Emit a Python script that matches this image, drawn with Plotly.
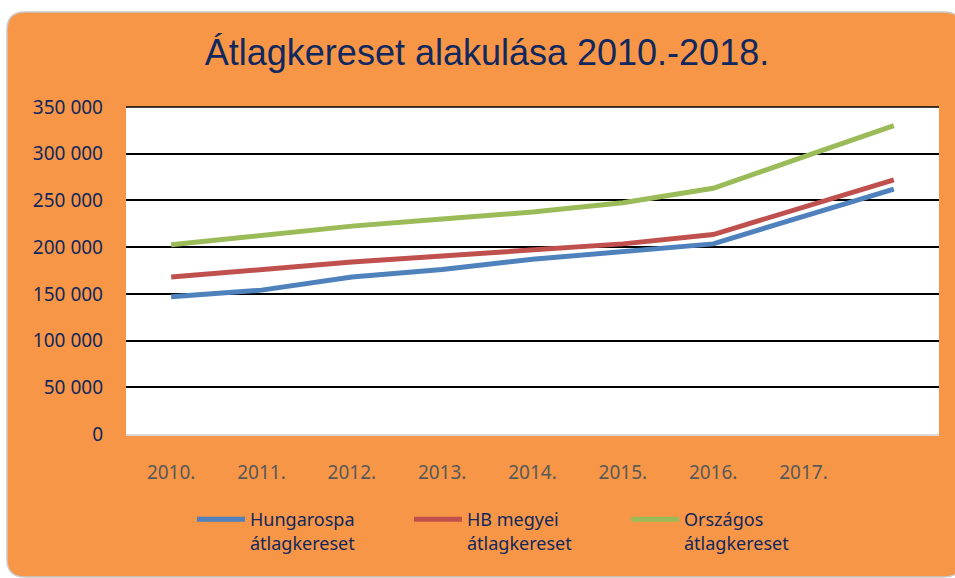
import plotly.graph_objects as go

years = ["2010.", "2011.", "2012.", "2013.", "2014.", "2015.", "2016.", "2017.", "2018."]
tick_labels = ["2010.", "2011.", "2012.", "2013.", "2014.", "2015.", "2016.", "2017.", ""]
hungarospa = [147000, 154000, 168000, 176000, 187000, 195000, 203500, 233000, 262000]
hb_megyei = [168000, 176000, 184000, 190500, 197000, 203500, 213500, 243000, 272000]
orszagos = [202500, 213000, 222500, 230000, 237500, 247500, 263000, 296500, 330000]
names = ["Hungarospa<br>átlagkereset", "HB megyei<br>átlagkereset", "Országos<br>átlagkereset"]
colors = ["#4F81BD", "#C0504D", "#9BBB59"]
y_ticks = [0, 50000, 100000, 150000, 200000, 250000, 300000, 350000]
y_tick_text = ["0", "50 000", "100 000", "150 000", "200 000", "250 000", "300 000", "350 000"]

W, H = 955, 578
L, R, T, B = 126, 16, 107, 144
pw, ph = W - L - R, H - T - B

def px(x):
    return (x - L) / pw

def py(y):
    return (H - B - y) / ph

xi = list(range(len(years)))
fig = go.Figure()
for name, vals, c in zip(names, [hungarospa, hb_megyei, orszagos], colors):
    fig.add_trace(go.Scatter(x=xi, y=vals, mode="lines", name=name,
                             line=dict(color=c, width=5)))

# rounded orange panel
x0, x1, y0, y1 = 7, 962, 12, 577
r = 18
rx, ry = r / pw, r / ph
X0, X1, Y0, Y1 = px(x0), px(x1), py(y1), py(y0)
path = (f"M{X0+rx},{Y1} L{X1-rx},{Y1} Q{X1},{Y1} {X1},{Y1-ry} "
        f"L{X1},{Y0+ry} Q{X1},{Y0} {X1-rx},{Y0} L{X0+rx},{Y0} "
        f"Q{X0},{Y0} {X0},{Y0+ry} L{X0},{Y1-ry} Q{X0},{Y1} {X0+rx},{Y1} Z")
fig.add_shape(type="path", path=path, xref="paper", yref="paper",
              fillcolor="#F79646", line=dict(color="#C8C8C8", width=1.5), layer="below")
fig.add_shape(type="rect", x0=0, x1=1, y0=0, y1=1, xref="paper", yref="paper",
              fillcolor="white", line=dict(width=0), layer="below")
fig.add_shape(type="line", x0=0, x1=1, y0=1, y1=1, xref="paper", yref="paper",
              line=dict(color="#000000", width=1.6), layer="below")

fig.update_layout(
    width=W, height=H, autosize=False,
    margin=dict(l=L, r=R, t=T, b=B, autoexpand=False),
    paper_bgcolor="white", plot_bgcolor="rgba(0,0,0,0)",
    title=dict(text="Átlagkereset alakulása 2010.-2018.", x=487 / W, xref="container",
               xanchor="center", y=1 - 52 / H, yanchor="middle", yref="container",
               font=dict(family="Liberation Sans", size=36, color="#10285E")),
    showlegend=True,
    legend=dict(orientation="h", x=px(192), xanchor="left", y=py(501), yanchor="top",
                itemwidth=48, entrywidth=154, entrywidthmode="pixels", valign="top",
                bgcolor="rgba(0,0,0,0)",
                font=dict(family="Noto Sans", size=18, color="#10285E")),
)
fig.update_xaxes(range=[-0.5, 8.5], tickvals=xi, ticktext=tick_labels,
                 showgrid=False, zeroline=False, showline=True, linecolor="#D9D9D9",
                 linewidth=2, ticks="", ticklabelstandoff=20,
                 tickfont=dict(family="Noto Sans", size=19, color="#595959"))
fig.update_yaxes(range=[0, 350000], tickvals=y_ticks, ticktext=y_tick_text,
                 showgrid=True, gridcolor="#000000", gridwidth=1.6, zeroline=False,
                 showline=False, ticks="", ticklabelstandoff=22,
                 tickfont=dict(family="Noto Sans", size=19, color="#10285E"))

fig.write_html("out.html", config={"displayModeBar": False},
               post_script="document.body.style.margin='0';")
